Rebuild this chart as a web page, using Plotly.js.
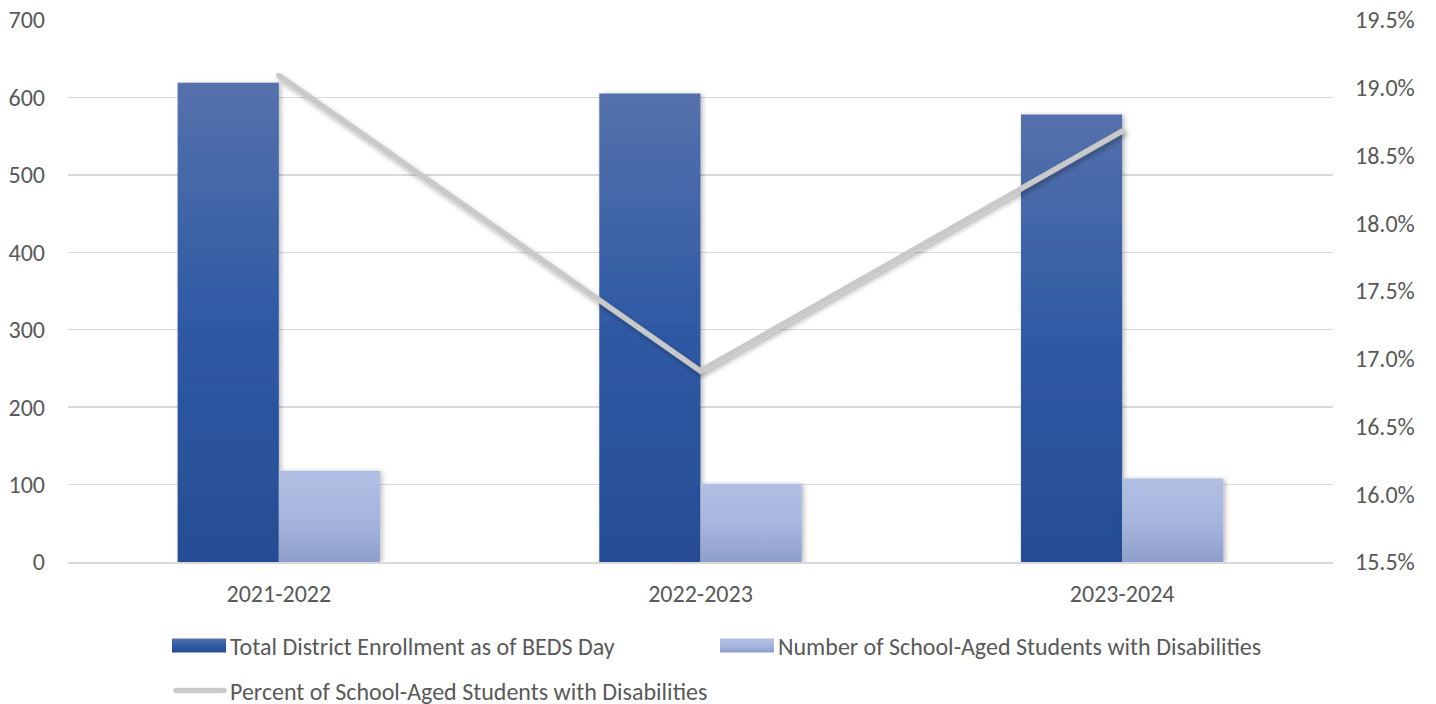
<!DOCTYPE html>
<html>
<head>
<meta charset="utf-8">
<script src="https://cdn.plot.ly/plotly-3.0.1.min.js"></script>
<style>
  html, body { margin: 0; padding: 0; background: #ffffff; }
  #chart { width: 1436px; height: 704px; }
</style>
</head>
<body>
<div id="chart"></div>
<script>
// School years shown on the category axis
const years = ['2021-2022', '2022-2023', '2023-2024'];

// Total district enrollment (left axis)
const enrollment = [619, 605, 578];

// Number of school-aged students with disabilities (left axis)
const studentsWithDisabilities = [118, 101, 108];

// Percent of school-aged students with disabilities (right axis, %)
const percentWithDisabilities = [19.09, 16.91, 18.68];

const seriesNames = [
  'Total District Enrollment as of BEDS Day',
  'Number of School-Aged Students with Disabilities',
  'Percent of School-Aged Students with Disabilities'
];

const FONT = 'Carlito, "Open Sans", sans-serif';
const TEXT = '#595959';
const FS = 24;

const traces = [
  {
    type: 'bar', name: seriesNames[0], x: years, y: enrollment,
    marker: { color: '#3A5DA0', line: { width: 0 } },
    legend: 'legend', hoverinfo: 'skip'
  },
  {
    type: 'bar', name: seriesNames[1], x: years, y: studentsWithDisabilities,
    marker: { color: '#A3B2DB', line: { width: 0 } },
    legend: 'legend', hoverinfo: 'skip'
  },
  {
    type: 'scatter', mode: 'lines', name: seriesNames[2], x: years, y: percentWithDisabilities,
    yaxis: 'y2', legend: 'legend2',
    line: { color: '#C9C9C9', width: 5.5 },
    hoverinfo: 'skip'
  }
];

const legendBase = {
  orientation: 'h',
  xref: 'container', yref: 'container',
  xanchor: 'left', yanchor: 'middle',
  itemwidth: 30,
  font: { family: FONT, size: FS, color: TEXT },
  bgcolor: 'rgba(0,0,0,0)'
};

const layout = {
  width: 1436, height: 704,
  margin: { l: 68, r: 103, t: 20, b: 142 },
  paper_bgcolor: '#ffffff', plot_bgcolor: '#ffffff',
  font: { family: FONT, color: TEXT, size: FS },
  barmode: 'group',
  bargap: 0.52, bargroupgap: 0,
  showlegend: true,
  xaxis: {
    type: 'category',
    showgrid: false, zeroline: false,
    showline: true, linecolor: '#D9D9D9', linewidth: 1.5,
    ticks: '', ticklabelstandoff: 10,
    tickfont: { family: FONT, size: FS, color: TEXT }
  },
  yaxis: {
    range: [0, 700], dtick: 100, tick0: 0,
    showgrid: true, gridcolor: '#D9D9D9', gridwidth: 1.5,
    zeroline: false, showline: false, ticks: '',
    ticklabelstandoff: 22,
    tickfont: { family: FONT, size: FS, color: TEXT }
  },
  yaxis2: {
    overlaying: 'y', side: 'right',
    range: [15.5, 19.5], dtick: 0.5, tick0: 15.5,
    tickformat: '.1f', ticksuffix: '%',
    showgrid: false, zeroline: false, showline: false, ticks: '',
    ticklabelstandoff: 21,
    tickfont: { family: FONT, size: FS, color: TEXT }
  },
  legend: Object.assign({}, legendBase, {
    entrywidth: 503, entrywidthmode: 'pixels', x: 190 / 1436, y: 1 - 646 / 704
  }),
  legend2: Object.assign({}, legendBase, { x: 190 / 1436, y: 1 - 691 / 704 })
};

Plotly.newPlot('chart', traces, layout, { staticPlot: true, displayModeBar: false }).then(function (gd) {
  const svg = gd.querySelector('svg.main-svg');
  const NS = 'http://www.w3.org/2000/svg';
  const defs = document.createElementNS(NS, 'defs');
  defs.innerHTML =
    '<linearGradient id="gradDark" x1="0" y1="0" x2="0" y2="1">' +
      '<stop offset="0" stop-color="#5571AB"/><stop offset="0.5" stop-color="#2F5AA4"/><stop offset="1" stop-color="#264D94"/>' +
    '</linearGradient>' +
    '<linearGradient id="gradLight" x1="0" y1="0" x2="0" y2="1">' +
      '<stop offset="0" stop-color="#B1BFE3"/><stop offset="0.5" stop-color="#A7B6DE"/><stop offset="1" stop-color="#8E9FCB"/>' +
    '</linearGradient>' +
    '<filter id="barShadow" x="-20%" y="-5%" width="140%" height="110%">' +
      '<feDropShadow dx="2" dy="1" stdDeviation="2.5" flood-color="#000" flood-opacity="0.28"/>' +
    '</filter>' +
    '<filter id="lineShadow" x="-5%" y="-20%" width="110%" height="140%">' +
      '<feDropShadow dx="2" dy="3" stdDeviation="2.5" flood-color="#000" flood-opacity="0.3"/>' +
    '</filter>';
  svg.insertBefore(defs, svg.firstChild);

  // Vertical gradients and soft shadows on the bars
  const barTraces = gd.querySelectorAll('.barlayer .trace.bars');
  const grads = ['url(#gradDark)', 'url(#gradLight)'];
  barTraces.forEach(function (t, i) {
    t.querySelectorAll('path').forEach(function (p) {
      p.style.fill = grads[i];
      p.setAttribute('filter', 'url(#barShadow)');
    });
  });

  // Rounded line with a drop shadow
  gd.querySelectorAll('.scatterlayer .js-line').forEach(function (p) {
    p.style.strokeLinecap = 'round';
    p.style.strokeLinejoin = 'miter';
    p.setAttribute('filter', 'url(#lineShadow)');
  });

  // Let the wider legend swatches and texts extend past the legend boxes
  gd.querySelectorAll('.infolayer [clip-path]').forEach(function (el) {
    el.removeAttribute('clip-path');
  });

  // Wider legend swatches, matched to their series by the bound trace name
  gd.querySelectorAll('.infolayer g.traces').forEach(function (item) {
    let name = null;
    const bound = item.__data__;
    if (bound && bound[0] && bound[0].trace) name = bound[0].trace.name;
    if (name === null) {
      const t = item.querySelector('.legendtext');
      if (t) name = t.textContent;
    }
    const idx = seriesNames.indexOf(name);
    if (idx === 0 || idx === 1) {
      item.querySelectorAll('.legendpoints path').forEach(function (p) {
        p.setAttribute('d', 'M-38,-7H16V7H-38Z');
        p.style.fill = grads[idx];
        p.style.stroke = 'none';
      });
    } else if (idx === 2) {
      item.querySelectorAll('.legendlines path').forEach(function (p) {
        p.setAttribute('d', 'M-14,0h48');
        p.style.strokeWidth = '5.5px';
        p.style.strokeLinecap = 'round';
      });
    }
  });
});
</script>
</body>
</html>
